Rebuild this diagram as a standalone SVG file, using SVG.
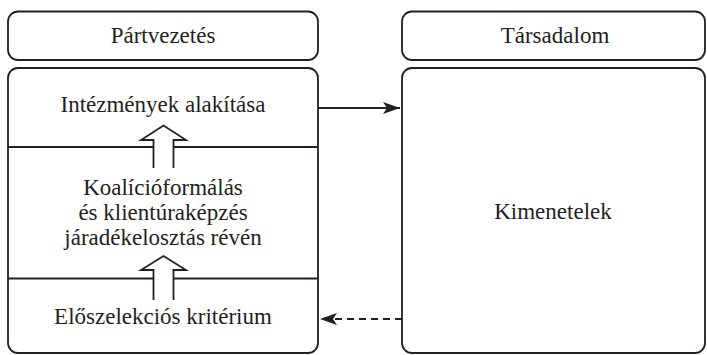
<svg xmlns="http://www.w3.org/2000/svg" width="707" height="355" viewBox="0 0 707 355">
<style>
.box{fill:#fff;stroke:#231f20;stroke-width:1.8}
.ln{stroke:#231f20;stroke-width:1.8;fill:none}
.t{font-size:23px;fill:#231f20;text-anchor:middle}
.ha{fill:#fff;stroke:#231f20;stroke-width:1.8;stroke-linejoin:miter}
</style>
<defs>
<marker id="ah" markerWidth="18" markerHeight="14" refX="17" refY="7" orient="auto" markerUnits="userSpaceOnUse">
<path d="M0,1 L17,7 L0,13 L4,7 Z" fill="#231f20"/>
</marker>
</defs>
<g font-family="Liberation Serif, Times New Roman, serif">
<g id="hdr-left"><rect class="box" x="8" y="11.5" width="310" height="48.5" rx="10"/><text class="t" x="163" y="43">Pártvezetés</text></g>
<g id="hdr-right"><rect class="box" x="402" y="11.5" width="303" height="48.5" rx="10"/><text class="t" x="555" y="43">Társadalom</text></g>
<g id="left-main">
<rect class="box" x="8" y="68" width="310" height="285" rx="10"/>
<line class="ln" x1="8" y1="147" x2="318" y2="147"/>
<line class="ln" x1="8" y1="278.5" x2="318" y2="278.5"/>
</g>
<g id="n-intezmenyek"><text class="t" x="163" y="112">Intézmények alakítása</text></g>
<g id="n-koalicio"><text class="t" x="163" y="195">Koalícióformálás</text><text class="t" x="163" y="220">és klientúraképzés</text><text class="t" x="163" y="245">járadékelosztás révén</text></g>
<g id="n-eloszelekcios"><text class="t" x="163" y="324">Előszelekciós kritérium</text></g>
<g id="right-main"><rect class="box" x="402" y="68" width="303" height="285" rx="10"/><text class="t" x="553" y="219">Kimenetelek</text></g>
</g>
<g id="connectors">
<path class="ha" d="M153.5,168 V140 H141 L163.5,125.5 L186,140 H173.5 V168"/>
<path class="ha" d="M153.5,300 V270 H141 L163.5,256 L186,270 H173.5 V300"/>
<line class="ln" x1="318" y1="108" x2="400" y2="108" marker-end="url(#ah)"/>
<line class="ln" x1="402" y1="319" x2="320" y2="319" stroke-dasharray="7,5" marker-end="url(#ah)"/>
</g>
</svg>
